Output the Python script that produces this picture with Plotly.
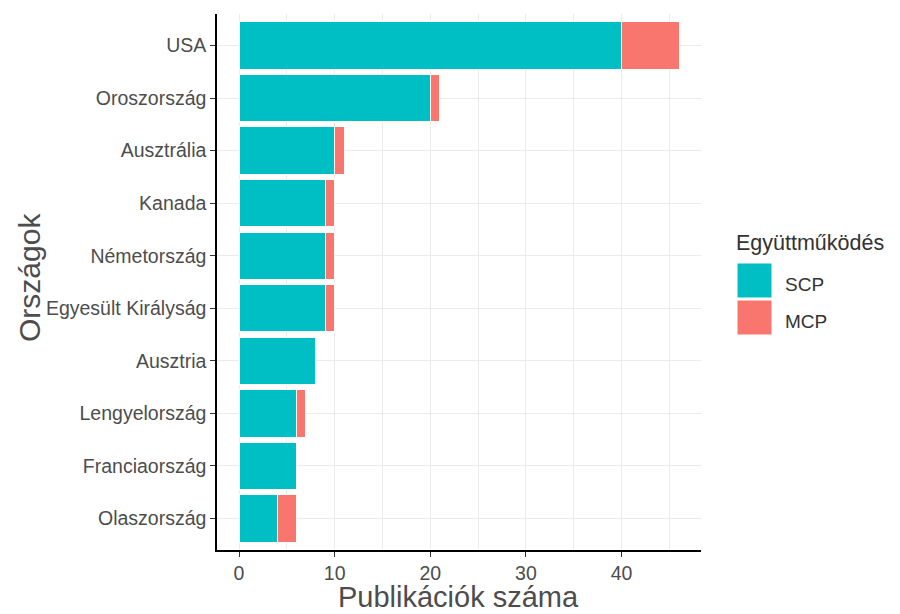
import plotly.graph_objects as go

countries = ["USA", "Oroszország", "Ausztrália", "Kanada", "Németország",
             "Egyesült Királyság", "Ausztria", "Lengyelország", "Franciaország", "Olaszország"]
scp = [40, 20, 10, 9, 9, 9, 8, 6, 6, 4]
mcp = [6, 1, 1, 1, 1, 1, 0, 1, 0, 2]
series_names = ["SCP", "MCP"]
series_colors = ["#00BFC4", "#F8766D"]
x_ticks = [0, 10, 20, 30, 40]

OFF = 8  # page body margin in the browser
W, H = 900 - OFF, 614 - OFF
L, R, T, B = 217, 701, 14, 550  # target plot area in screenshot pixels

fig = go.Figure()
for name, vals, col in zip(series_names, [scp, mcp], series_colors):
    fig.add_trace(go.Bar(
        y=countries, x=vals, name=name, orientation="h",
        marker=dict(color=col, line=dict(color="white", width=1)),
        width=0.9, showlegend=False,
    ))

total_max = max(s + m for s, m in zip(scp, mcp))
pad = total_max * 0.05

font_fam = "Liberation Sans, Arial, sans-serif"
fig.update_layout(
    width=W, height=H,
    margin=dict(l=L - OFF, r=900 - R, t=T - OFF, b=614 - B),
    plot_bgcolor="white", paper_bgcolor="white",
    barmode="stack", bargap=0.1,
    font=dict(family=font_fam, color="#4d4d4d"),
)
fig.update_xaxes(
    range=[-pad, total_max + pad], tickvals=x_ticks,
    showgrid=True, gridcolor="#ebebeb", gridwidth=1,
    minor=dict(dtick=5, showgrid=True, gridcolor="#ebebeb", gridwidth=1),
    showline=True, linecolor="black", linewidth=1.5,
    ticks="outside", ticklen=5, tickcolor="#333333", tickwidth=1,
    tickfont=dict(size=19.5, color="#4d4d4d"), zeroline=False,
)
fig.update_yaxes(
    categoryorder="array", categoryarray=countries[::-1],
    range=[-0.6, len(countries) - 0.4],
    showgrid=True, gridcolor="#ebebeb", gridwidth=1,
    showline=True, linecolor="black", linewidth=1.5,
    ticks="outside", ticklen=5, tickcolor="#333333", tickwidth=1,
    tickfont=dict(size=19.5, color="#4d4d4d"), zeroline=False,
)

def px_x(p):
    return (p - L) / (R - L)

def px_y(p):
    return (B - p) / (B - T)

# axis titles
fig.add_annotation(text="Publikációk száma", xref="paper", yref="paper",
                   x=px_x(458), y=px_y(597), showarrow=False,
                   font=dict(size=29, color="#4d4d4d"), xanchor="center", yanchor="middle")
fig.add_annotation(text="Országok", xref="paper", yref="paper",
                   x=px_x(29), y=px_y(278), showarrow=False, textangle=-90,
                   font=dict(size=30, color="#4d4d4d"), xanchor="center", yanchor="middle")

# legend (drawn manually to match ggplot-style large keys)
fig.add_annotation(text="Együttműködés", xref="paper", yref="paper",
                   x=px_x(734), y=px_y(243), showarrow=False, xanchor="left", yanchor="middle",
                   font=dict(size=21.5, color="#333333"))
key_tops = [263, 300]
for name, col, top in zip(series_names, series_colors, key_tops):
    fig.add_shape(type="rect", xref="paper", yref="paper",
                  x0=px_x(737), x1=px_x(772), y0=px_y(top), y1=px_y(top + 35),
                  fillcolor=col, line=dict(color="white", width=1))
    fig.add_annotation(text=name, xref="paper", yref="paper",
                       x=px_x(783), y=px_y(top + 21), showarrow=False, xanchor="left", yanchor="middle",
                       font=dict(size=19, color="#333333"))

fig.write_html("out.html")
